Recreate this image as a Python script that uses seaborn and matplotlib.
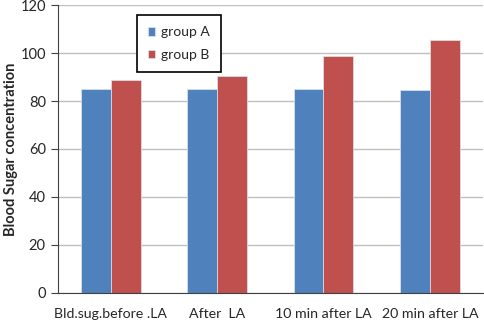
import pandas as pd
import matplotlib.pyplot as plt
import seaborn as sns

stages = ['Bld.sug.before .LA', 'After  LA', '10 min after LA', '20 min after LA']
group_a = [84.8, 85.2, 85.0, 84.5]
group_b = [88.6, 90.3, 98.8, 105.4]

df = pd.DataFrame({
    'stage': stages * 2,
    'value': group_a + group_b,
    'group': ['group A'] * len(stages) + ['group B'] * len(stages),
})

sns.set_style('white')
plt.rcParams['font.family'] = ['Lato', 'DejaVu Sans']

fig = plt.figure(figsize=(4.84, 3.22), dpi=100)
ax = fig.add_axes([0.119, 0.091, 0.879, 0.893])

sns.barplot(data=df, x='stage', y='value', hue='group',
            palette=['#4F81BD', '#C0504D'], saturation=1, width=0.56,
            edgecolor='#dde6f0', linewidth=0.5, ax=ax)

ax.set_ylim(0, 120)
ax.set_xlim(-0.5, 3.5)
ax.set_yticks(range(0, 121, 20))
ax.yaxis.grid(True, color='#c0c0c0', linewidth=1)
ax.set_axisbelow(True)

for s in ['top', 'right']:
    ax.spines[s].set_visible(False)
ax.spines['left'].set_color('#404040')
ax.spines['bottom'].set_color('#404040')

ax.set_xticks([0.5, 1.5, 2.5, 3.5], minor=True)
ax.tick_params(axis='x', which='major', length=0, pad=11, labelsize=10.2)
ax.tick_params(axis='x', which='minor', length=5, color='#404040', direction='out')
ax.tick_params(axis='y', length=5, color='#404040', direction='out', labelsize=10.5, left=True)

ax.set_xlabel('')
ax.set_ylabel('Blood Sugar concentration', fontsize=10.5, fontweight='bold', labelpad=2)

leg = ax.legend(loc='upper left', bbox_to_anchor=(0.186, 0.965), borderaxespad=0,
                fancybox=False, framealpha=1, edgecolor='black', fontsize=10,
                handlelength=0.55, handleheight=0.55, handletextpad=0.4,
                labelspacing=0.75, borderpad=0.8)
leg.get_frame().set_linewidth(1.2)

plt.savefig('out.png', dpi=100)
